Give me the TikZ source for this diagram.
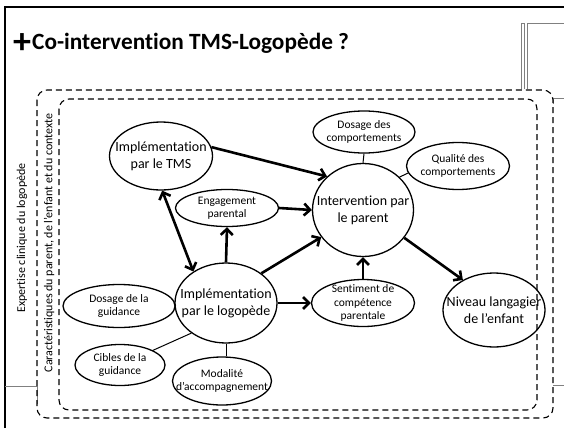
\documentclass[tikz,border=0pt]{standalone}
\usepackage{fontspec}
\setmainfont{Carlito}[Ligatures=NoCommon]
\usetikzlibrary{shapes.geometric,arrows.meta}
\begin{document}
\begin{tikzpicture}[x=1pt,y=-1pt,
  ell/.style={ellipse,draw,line width=1.3pt,inner sep=0pt},
  big/.style={font=\fontsize{14}{17}\selectfont,align=center},
  small/.style={font=\fontsize{11.5}{13.5}\selectfont,align=center},
  side/.style={font=\fontsize{12}{14}\selectfont,rotate=90},
  arr/.style={line width=2.6pt,-{Straight Barb[length=6pt,width=12pt]}},
  darr/.style={line width=2.6pt,{Straight Barb[length=6pt,width=12pt]}-{Straight Barb[length=6pt,width=12pt]}},
  link/.style={line width=1pt},
  dbox/.style={dash pattern=on 6pt off 4pt,line width=1.1pt,rounded corners=10pt},
  slide/.style={line width=2.2pt},
  deco/.style={draw=gray,line width=0.8pt}]
\useasboundingbox (0,0) rectangle (564,428);

% slide frame and decorations
\draw[slide] (5,428) -- (5,7) -- (564,7);
\draw[deco] (521,89) -- (521,23) -- (524,23) -- (524,89);
\draw[deco] (527,89) -- (527,23) -- (564,23);
\draw[deco] (553,104) -- (553,98) -- (564,98);
\draw[deco] (553,385) -- (564,385);
\draw[deco] (5,386) -- (37,386) -- (37,404);

% title
\node[font=\fontsize{36}{38}\bfseries\selectfont,inner sep=0pt,anchor=base] (plus) at (22,53) {+};
\node[anchor=base west,font=\fontsize{23.3}{28}\bfseries\selectfont,inner sep=0pt] (title) at (32,49) {Co-intervention TMS-Logopède ?};

% dashed frames
\draw[dbox] (37,90) rectangle (553,418);
\draw[dbox] (59,99) rectangle (537,410);
\node[side] (exp) at (22,238) {Expertise clinique du logopède};
\node[side] (car) at (49,243) {Caractéristiques du parent, de l’enfant et du contexte};

% ellipses
\node[ell,minimum width=103pt,minimum height=68pt,label={[big]center:Implémentation\\par le TMS}] (tms) at (161,156) {};
\node[ell,minimum width=103pt,minimum height=37pt,label={[small]center:Engagement\\parental}] (eng) at (227,208) {};
\node[ell,minimum width=101pt,minimum height=93pt,label={[big]center:Intervention par\\le parent}] (int) at (363,210) {};
\node[ell,minimum width=102pt,minimum height=42pt,label={[small]center:Dosage des\\comportements}] (dc) at (364,132) {};
\node[ell,minimum width=103pt,minimum height=47pt,label={[small]center:Qualité des\\comportements}] (qc) at (458,166) {};
\node[ell,minimum width=102pt,minimum height=80pt,label={[big]center:Implémentation\\par le logopède}] (logo) at (226,303) {};
\node[ell,minimum width=112pt,minimum height=43pt,label={[small]center:Dosage de la\\guidance}] (dg) at (119,306) {};
\node[ell,minimum width=90pt,minimum height=41pt,label={[small]center:Cibles de la\\guidance}] (cg) at (120,365) {};
\node[ell,minimum width=99pt,minimum height=48pt,label={[small]center:Modalité\\d’accompagnement}] (mod) at (222,381) {};
\node[ell,minimum width=103pt,minimum height=47pt,label={[small]center:Sentiment de\\compétence\\parentale}] (sent) at (363,303) {};
\node[ell,minimum width=102pt,minimum height=74pt,label={[big]center:Niveau langagier\\de l’enfant}] (niv) at (494,310) {};

% thick arrows
\draw[arr] (tms.10) -- (int.137);
\draw[arr] (eng.east) -- (int.west);
\draw[arr] (logo.north) -- (eng.south);
\draw[darr] (tms.272) -- (logo.136);
\draw[arr] (logo.40) -- (int.213);
\draw[arr] (logo.east) -- (sent.west);
\draw[arr] (sent.north) -- (int.south);
\draw[arr] (int.326) -- (niv.136);

% thin links
\draw[link] (dc.south) -- (int.north);
\draw[link] (int.42) -- (qc.188);
\draw[link] (dg.east) -- (logo.west);
\draw[link] (cg.24) -- (logo.221);
\draw[link] (logo.south) -- (logo.south |- mod.north);
\end{tikzpicture}
\end{document}
